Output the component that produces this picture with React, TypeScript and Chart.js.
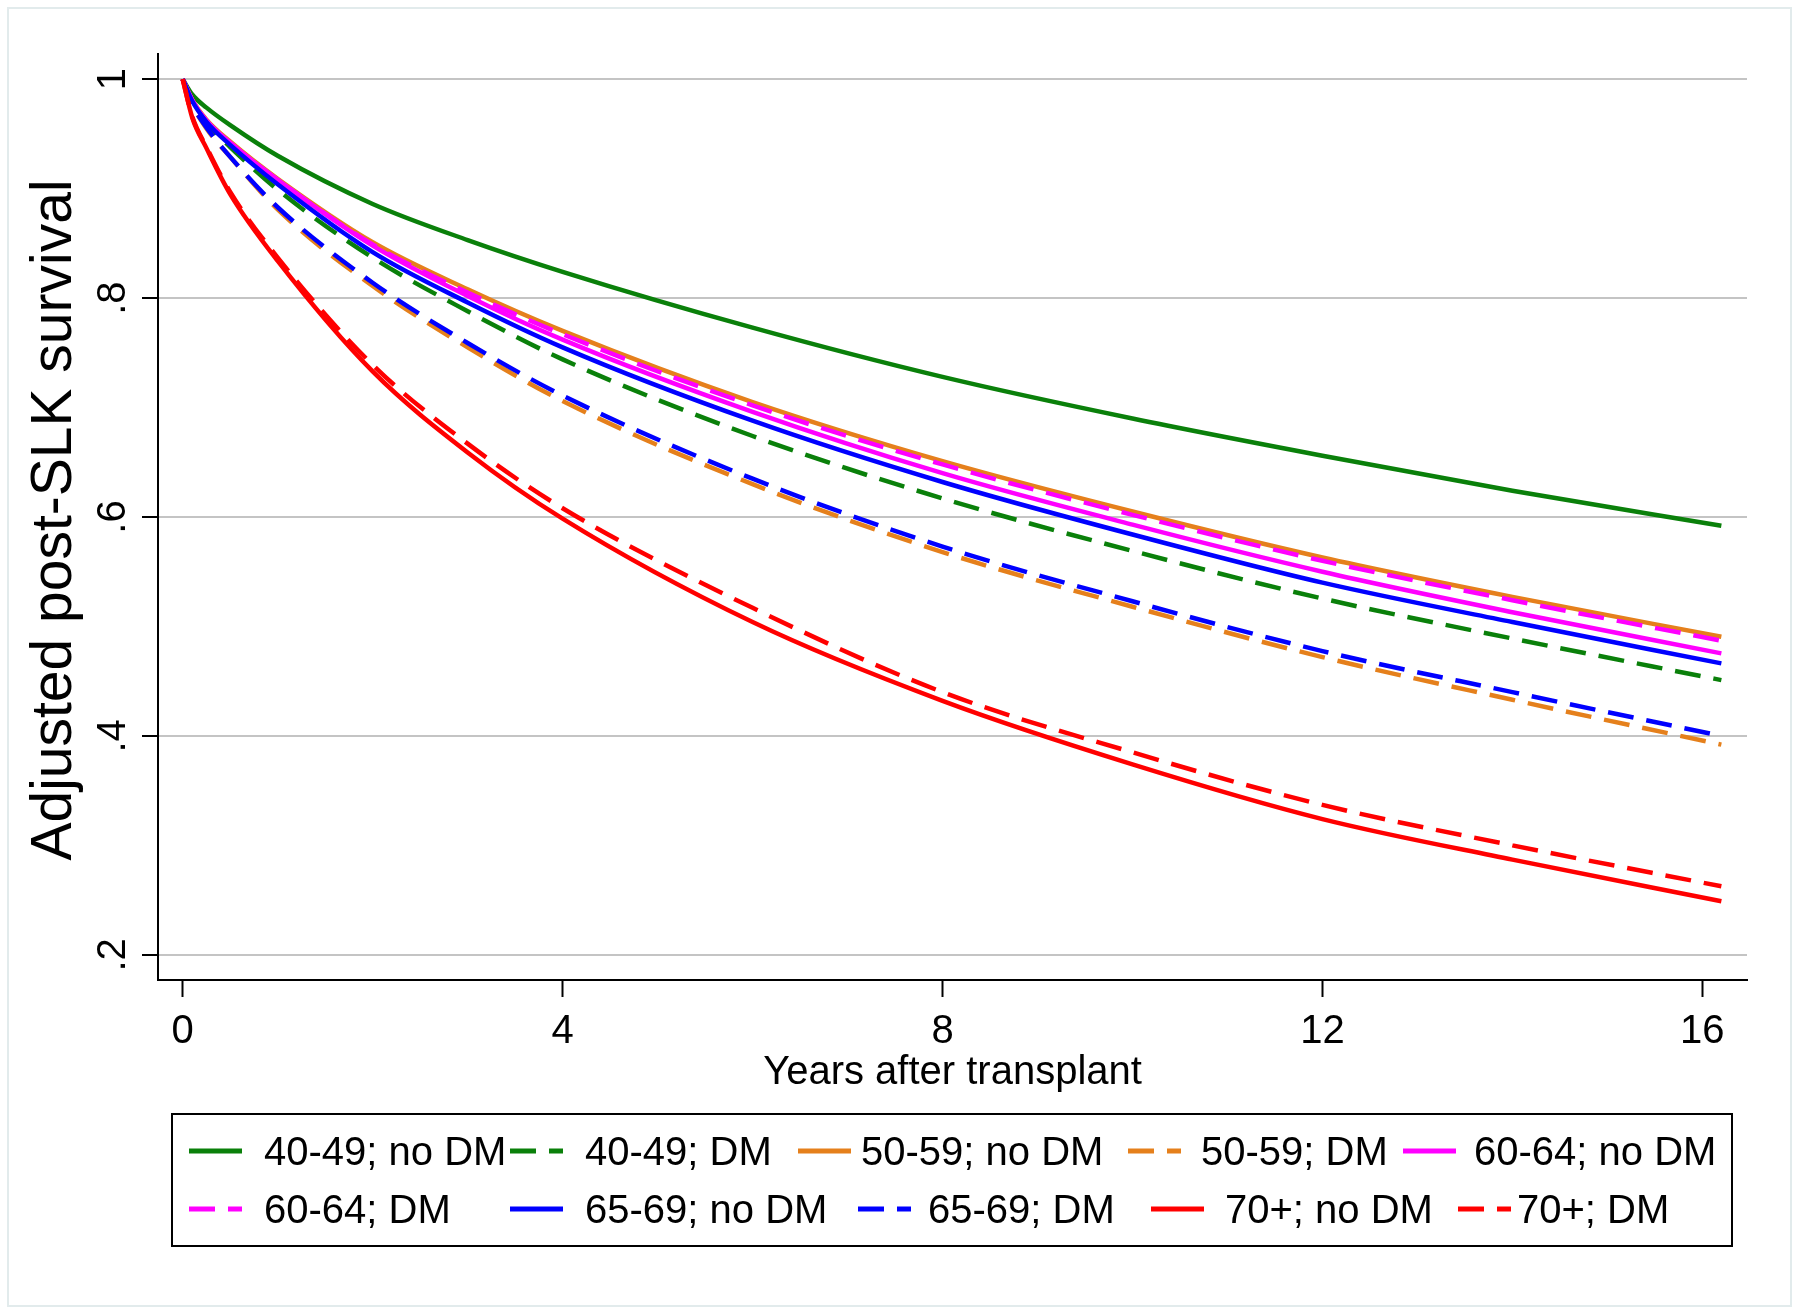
import React, { useEffect, useRef } from "react";
import { Chart, registerables } from "chart.js";

Chart.register(...registerables);

// ---------- data ----------
const years = [0, 0.1, 0.25, 0.5, 1, 2, 3, 4, 6, 8, 10, 12, 14, 16.2];

const age4049NoDM = [1, 0.986, 0.974, 0.958, 0.93, 0.886, 0.853, 0.824, 0.773, 0.728, 0.69, 0.656, 0.624, 0.592];
const age4049DM = [1, 0.979, 0.96, 0.938, 0.899, 0.837, 0.788, 0.744, 0.674, 0.617, 0.569, 0.5255, 0.489, 0.451];
const age5059NoDM = [1, 0.981, 0.963, 0.943, 0.909, 0.851, 0.808, 0.77, 0.705, 0.651, 0.605, 0.563, 0.527, 0.4906];
const age5059DM = [1, 0.977, 0.955, 0.929, 0.881, 0.811, 0.755, 0.706, 0.63, 0.568, 0.518, 0.472, 0.433, 0.392];
const age6064NoDM = [1, 0.981, 0.962, 0.942, 0.908, 0.848, 0.802, 0.762, 0.696, 0.64, 0.593, 0.55, 0.513, 0.4754];
const age6064DM = [1, 0.981, 0.962, 0.942, 0.908, 0.849, 0.805, 0.767, 0.702, 0.648, 0.602, 0.56, 0.524, 0.487];
const age6569NoDM = [1, 0.98, 0.961, 0.94, 0.904, 0.842, 0.796, 0.755, 0.688, 0.632, 0.584, 0.54, 0.504, 0.4663];
const age6569DM = [1, 0.977, 0.956, 0.929, 0.883, 0.814, 0.759, 0.711, 0.635, 0.573, 0.523, 0.4775, 0.44, 0.4];
const age70NoDM = [1, 0.965, 0.937, 0.895, 0.834, 0.733, 0.659, 0.5985, 0.504, 0.432, 0.374, 0.324, 0.287, 0.249];
const age70DM = [1, 0.966, 0.938, 0.897, 0.837, 0.739, 0.667, 0.608, 0.517, 0.44, 0.385, 0.337, 0.3, 0.2626];

const seriesLabels = [
  "40-49; no DM",
  "40-49; DM",
  "50-59; no DM",
  "50-59; DM",
  "60-64; no DM",
  "60-64; DM",
  "65-69; no DM",
  "65-69; DM",
  "70+; no DM",
  "70+; DM",
];
const seriesValues = [
  age4049NoDM,
  age4049DM,
  age5059NoDM,
  age5059DM,
  age6064NoDM,
  age6064DM,
  age6569NoDM,
  age6569DM,
  age70NoDM,
  age70DM,
];

const xTickValues = [0, 4, 8, 12, 16];
const xTickLabels = ["0", "4", "8", "12", "16"];
const yTickValues = [0.2, 0.4, 0.6, 0.8, 1];
const yTickLabels = [".2", ".4", ".6", ".8", "1"];
const xTitle = "Years after transplant";
const yTitle = "Adjusted post-SLK survival";

// ---------- styles ----------
const GREEN = "#0a800a";
const ORANGE = "#e5801c";
const MAGENTA = "#ff00ff";
const BLUE = "#0000ff";
const RED = "#ff0000";
const seriesColors = [GREEN, GREEN, ORANGE, ORANGE, MAGENTA, MAGENTA, BLUE, BLUE, RED, RED];
const seriesDashed = [false, true, false, true, false, true, false, true, false, true];
const DASH = [26, 13];
const FONT = '"Liberation Sans", Arial, Helvetica, sans-serif';

// legend layout: key start x, text start x, key line y, text baseline y
const legendLayout = [
  { kx: 189, tx: 264, ly: 1151, by: 1165 },
  { kx: 510, tx: 585, ly: 1151, by: 1165 },
  { kx: 798, tx: 861, ly: 1151, by: 1165 },
  { kx: 1128, tx: 1201, ly: 1151, by: 1165 },
  { kx: 1403, tx: 1474, ly: 1151, by: 1165 },
  { kx: 189, tx: 264, ly: 1209, by: 1223 },
  { kx: 510, tx: 585, ly: 1209, by: 1223 },
  { kx: 858, tx: 928, ly: 1209, by: 1223 },
  { kx: 1151, tx: 1225, ly: 1209, by: 1223 },
  { kx: 1458, tx: 1517, ly: 1209, by: 1223 },
];

const W = 1800;
const H = 1314;

const decorPlugin = {
  id: "decor",
  beforeDraw(chart: any) {
    const ctx = chart.ctx;
    ctx.save();
    ctx.fillStyle = "#ffffff";
    ctx.fillRect(0, 0, chart.width, chart.height);
    ctx.restore();
  },
  afterDraw(chart: any) {
    const ctx = chart.ctx;
    const xs = chart.scales.x;
    const ys = chart.scales.y;
    const area = chart.chartArea;
    ctx.save();
    ctx.fillStyle = "#000";
    ctx.font = `40px ${FONT}`;
    ctx.textAlign = "center";
    ctx.textBaseline = "alphabetic";
    xTickValues.forEach((v, i) => {
      ctx.fillText(xTickLabels[i], xs.getPixelForValue(v), 1043);
    });
    yTickValues.forEach((v, i) => {
      ctx.save();
      ctx.translate(125, ys.getPixelForValue(v));
      ctx.rotate(-Math.PI / 2);
      ctx.fillText(yTickLabels[i], 0, 0);
      ctx.restore();
    });
    ctx.fillText(xTitle, (area.left + area.right) / 2, 1084);

    ctx.save();
    ctx.font = `57px ${FONT}`;
    ctx.translate(71, 520);
    ctx.rotate(-Math.PI / 2);
    ctx.fillText(yTitle, 0, 0);
    ctx.restore();

    // legend
    ctx.strokeStyle = "#000";
    ctx.lineWidth = 2;
    ctx.strokeRect(172, 1114, 1560, 132);
    chart.data.datasets.forEach((ds: any, i: number) => {
      const p = legendLayout[i];
      ctx.beginPath();
      ctx.setLineDash(ds.borderDash || []);
      ctx.lineCap = "butt";
      ctx.strokeStyle = ds.borderColor;
      ctx.lineWidth = 5;
      ctx.moveTo(p.kx, p.ly);
      ctx.lineTo(p.kx + 53, p.ly);
      ctx.stroke();
      ctx.setLineDash([]);
      ctx.fillStyle = "#000";
      ctx.textAlign = "left";
      ctx.font = `40px ${FONT}`;
      ctx.fillText(ds.label, p.tx, p.by);
    });

    // outer frame
    ctx.strokeStyle = "#e2ebec";
    ctx.lineWidth = 2;
    ctx.strokeRect(8, 8, 1783, 1298);
    ctx.restore();
  },
};

export default function App() {
  const canvasRef = useRef<HTMLCanvasElement | null>(null);

  useEffect(() => {
    const canvas = canvasRef.current;
    if (!canvas) return;
    const datasets = seriesLabels.map((label, i) => ({
      label,
      data: years.map((t, j) => ({ x: t, y: seriesValues[i][j] })),
      borderColor: seriesColors[i],
      backgroundColor: seriesColors[i],
      borderWidth: 4.5,
      borderDash: seriesDashed[i] ? DASH : [],
      borderCapStyle: "butt",
      pointRadius: 0,
      fill: false,
      cubicInterpolationMode: "monotone",
      order: seriesLabels.length - i,
    }));

    const chart = new Chart(canvas, {
      type: "line",
      data: { datasets } as any,
      options: {
        animation: false,
        responsive: false,
        devicePixelRatio: 1,
        layout: { padding: { left: 0, right: 53, top: 54, bottom: 0 } },
        plugins: {
          legend: { display: false },
          tooltip: { enabled: false },
          title: { display: false },
        },
        scales: {
          x: {
            type: "linear",
            min: -0.26,
            max: 16.47,
            grid: {
              drawOnChartArea: false,
              drawTicks: true,
              tickLength: 17,
              tickColor: "#000",
              tickWidth: 2,
            },
            border: { display: true, color: "#000", width: 2 },
            ticks: { display: false },
            afterBuildTicks: (scale: any) => {
              scale.ticks = xTickValues.map((v) => ({ value: v }));
            },
            afterFit: (scale: any) => {
              scale.height = H - 980;
            },
          },
          y: {
            type: "linear",
            min: 0.177,
            max: 1.023,
            grid: {
              color: "#c4c4c4",
              lineWidth: 2,
              drawTicks: true,
              tickLength: 16,
              tickColor: "#000",
              tickWidth: 2,
            },
            border: { display: true, color: "#000", width: 2 },
            ticks: { display: false },
            afterBuildTicks: (scale: any) => {
              scale.ticks = yTickValues.map((v) => ({ value: v }));
            },
            afterFit: (scale: any) => {
              scale.width = 158;
            },
          },
        },
      } as any,
      plugins: [decorPlugin],
    });
    return () => chart.destroy();
  }, []);

  return (
    <div style={{ position: "absolute", left: 0, top: 0, width: W, height: H, background: "#fff" }}>
      <canvas ref={canvasRef} width={W} height={H} style={{ width: W, height: H, display: "block" }} />
    </div>
  );
}
